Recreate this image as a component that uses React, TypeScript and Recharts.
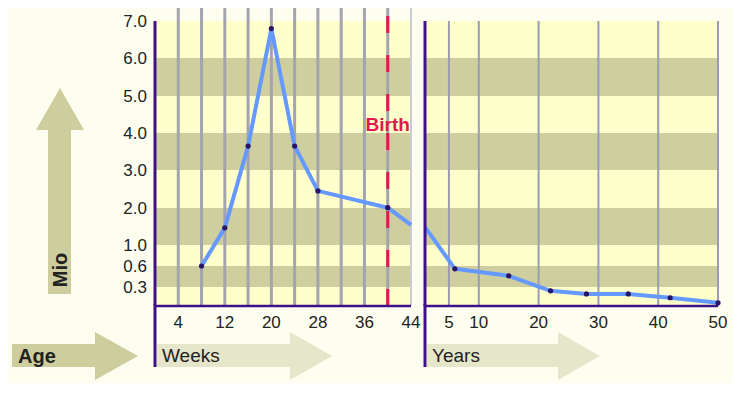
import { LineChart, Line, XAxis, YAxis, CartesianGrid, ReferenceLine } from "recharts";

// oocyte count in millions, prenatal (weeks) and after birth (years)
const weeks = [8, 12, 16, 20, 24, 28, 40, 44];
const weekMio = [0.6, 1.46, 3.65, 6.8, 3.65, 2.45, 2.0, 1.54];
const years = [1, 6, 15, 22, 28, 35, 42, 50];
const yearMio = [1.48, 0.56, 0.46, 0.24, 0.19, 0.19, 0.13, 0.05];

const weekGrid = [4, 8, 12, 16, 20, 24, 28, 32, 36, 40, 44];
const weekLabels = [4, 12, 20, 28, 36, 44];
const yearTicks = [5, 10, 20, 30, 40, 50];
const mioTicks = [0.3, 0.6, 1, 2, 3, 4, 5, 6, 7];
const birthWeek = 40;

const weekData = weeks.map((t, i) => ({ t, mio: weekMio[i] }));
const yearData = years.map((t, i) => ({ t, mio: yearMio[i] }));

// the Mio axis is stretched below 1.0 - relative height of each stop
const mioStops = [0, 0.3, 0.6, 1, 7];
const mioHeights = [0, 19, 40, 61, 285];

function mioHeight(v: number) {
  let i = 0;
  while (i < mioStops.length - 2 && v > mioStops[i + 1]) i++;
  const t = (v - mioStops[i]) / (mioStops[i + 1] - mioStops[i]);
  return mioHeights[i] + t * (mioHeights[i + 1] - mioHeights[i]);
}

function mioScale(): any {
  let dom = [0, 7];
  let rng = [0, 1];
  const s: any = (v: number) => {
    const h0 = mioHeight(dom[0]);
    const h1 = mioHeight(dom[1]);
    return rng[0] + ((mioHeight(v) - h0) / (h1 - h0)) * (rng[1] - rng[0]);
  };
  s.domain = (d?: number[]) => {
    if (d === undefined) return dom.slice();
    dom = d.map(Number);
    return s;
  };
  s.range = (r?: number[]) => {
    if (r === undefined) return rng.slice();
    rng = r.slice();
    return s;
  };
  s.copy = () => mioScale().domain(dom).range(rng);
  s.ticks = () => mioTicks;
  return s;
}

const CREAM = "#fefef0";
const YELLOW = "#ffffcc";
const OLIVE = "#cfce9e";
const PURPLE = "#40108a";
const RED = "#e0194e";
const BLUE = "#6699ff";
const TXT = "#222";

const bandsRight = [YELLOW, OLIVE];
const bandsLeft = ["none", YELLOW, OLIVE, YELLOW, OLIVE, YELLOW, OLIVE, YELLOW, OLIVE, YELLOW];

const noLine = () => null;

const weekLine = (p: any) => {
  const last = p.index === weekGrid.length - 1;
  return (
    <line
      key={p.key ?? `w${p.x1}`}
      x1={p.x1}
      y1={p.y1}
      x2={p.x2}
      y2={p.y2}
      stroke={last ? "#cacad8" : "#a4a4ae"}
      strokeWidth={last ? 2 : 3}
    />
  );
};

const yearLine = (p: any) => (
  <line key={p.key ?? `y${p.x1}`} x1={p.x1} y1={p.y1} x2={p.x2} y2={p.y2} stroke="#9b9bb3" strokeWidth={2} />
);

const dotSkip = (skip: number) => (p: any) =>
  p.index === skip ? (
    <g key={`d${p.index}`} />
  ) : (
    <circle key={`d${p.index}`} cx={p.cx} cy={p.cy} r={2.6} fill="#2a1466" />
  );

const tickStyle = { fill: TXT, fontSize: 17 };

export default function App() {
  return (
    <div
      style={{
        position: "relative",
        width: 727,
        height: 375,
        background: CREAM,
        fontFamily: "'Liberation Sans', Arial, sans-serif",
      }}
    >
      <svg width={727} height={375} style={{ position: "absolute", left: 0, top: 0 }}>
        {/* Mio arrow */}
        <rect x={40} y={121} width={23} height={165} fill="#cdcd9d" />
        <polygon points="28,122 76,122 52,80" fill="#cdcd9d" />
        <text
          transform="translate(52,262) rotate(-90)"
          textAnchor="middle"
          dy="0.36em"
          fontSize={20}
          fontWeight="bold"
          fill={TXT}
        >
          Mio
        </text>
        {/* Age arrow */}
        <rect x={4} y={336} width={84} height={23} fill="#cdcd9d" />
        <polygon points="87,324 87,372 130,348" fill="#cdcd9d" />
        <text x={10} y={355} fontSize={20} fontWeight="bold" fill={TXT}>
          Age
        </text>
        {/* Weeks arrow */}
        <rect x={149} y={336} width={134} height={23} fill="#e6e6ca" />
        <polygon points="282,324 282,372 324,348" fill="#e6e6ca" />
        <text x={154} y={354} fontSize={19} fill={TXT}>
          Weeks
        </text>
        {/* Years arrow */}
        <rect x={419} y={336} width={132} height={23} fill="#e6e6ca" />
        <polygon points="550,324 550,372 592,348" fill="#e6e6ca" />
        <text x={424} y={354} fontSize={19} fill={TXT}>
          Years
        </text>
        <line x1={147} y1={296} x2={147} y2={359} stroke={PURPLE} strokeWidth={3} />
        <line x1={417} y1={296} x2={417} y2={359} stroke={PURPLE} strokeWidth={3} />
      </svg>

      <div style={{ position: "absolute", left: 0, top: 0 }}>
        <LineChart width={420} height={340} data={weekData} margin={{ top: 0, right: 17, bottom: 12, left: 87 }}>
          <CartesianGrid syncWithTicks horizontal={noLine} vertical={weekLine} horizontalFill={bandsLeft} />
          <XAxis
            dataKey="t"
            type="number"
            domain={[0, 44]}
            ticks={weekGrid}
            interval={0}
            tickFormatter={(v: number) => (weekLabels.includes(v) ? String(v) : "")}
            tickLine={false}
            axisLine={{ stroke: PURPLE, strokeWidth: 2.5 }}
            tick={tickStyle}
            tickMargin={4}
            height={30}
          />
          <YAxis
            type="number"
            scale={mioScale()}
            domain={[0, 7.35]}
            ticks={mioTicks}
            interval={0}
            width={60}
            axisLine={false}
            tickLine={false}
            tick={tickStyle}
            tickFormatter={(v: number) => v.toFixed(1)}
          />
          <ReferenceLine segment={[{ x: 0, y: 0 }, { x: 0, y: 7 }]} stroke={PURPLE} strokeWidth={3} />
          <ReferenceLine
            x={birthWeek}
            stroke={RED}
            strokeWidth={3}
            strokeDasharray="17 22"
            label={{ value: "Birth", position: "insideTop", offset: 110, fill: RED, fontSize: 19, fontWeight: "bold" }}
          />
          <Line
            dataKey="mio"
            type="linear"
            stroke={BLUE}
            strokeWidth={4}
            strokeLinejoin="round"
            dot={dotSkip(weeks.length - 1)}
            activeDot={false}
            isAnimationActive={false}
          />
        </LineChart>
      </div>

      <div style={{ position: "absolute", left: 410, top: 0 }}>
        <LineChart width={314} height={340} data={yearData} margin={{ top: 13, right: 14, bottom: 12, left: 5 }}>
          <CartesianGrid syncWithTicks horizontal={noLine} vertical={yearLine} horizontalFill={bandsRight} />
          <XAxis
            dataKey="t"
            type="number"
            domain={[1, 50]}
            ticks={yearTicks}
            interval={0}
            tickLine={false}
            axisLine={{ stroke: PURPLE, strokeWidth: 2.5 }}
            tick={tickStyle}
            tickMargin={4}
            height={30}
          />
          <YAxis
            type="number"
            scale={mioScale()}
            domain={[0, 7]}
            ticks={mioTicks}
            interval={0}
            width={2}
            axisLine={{ stroke: PURPLE, strokeWidth: 3 }}
            tickLine={false}
            tick={{ fill: "none", fontSize: 1 }}
            tickFormatter={() => ""}
          />
          <Line
            dataKey="mio"
            type="linear"
            stroke={BLUE}
            strokeWidth={4}
            strokeLinejoin="round"
            dot={dotSkip(0)}
            activeDot={false}
            isAnimationActive={false}
          />
        </LineChart>
      </div>
    </div>
  );
}
